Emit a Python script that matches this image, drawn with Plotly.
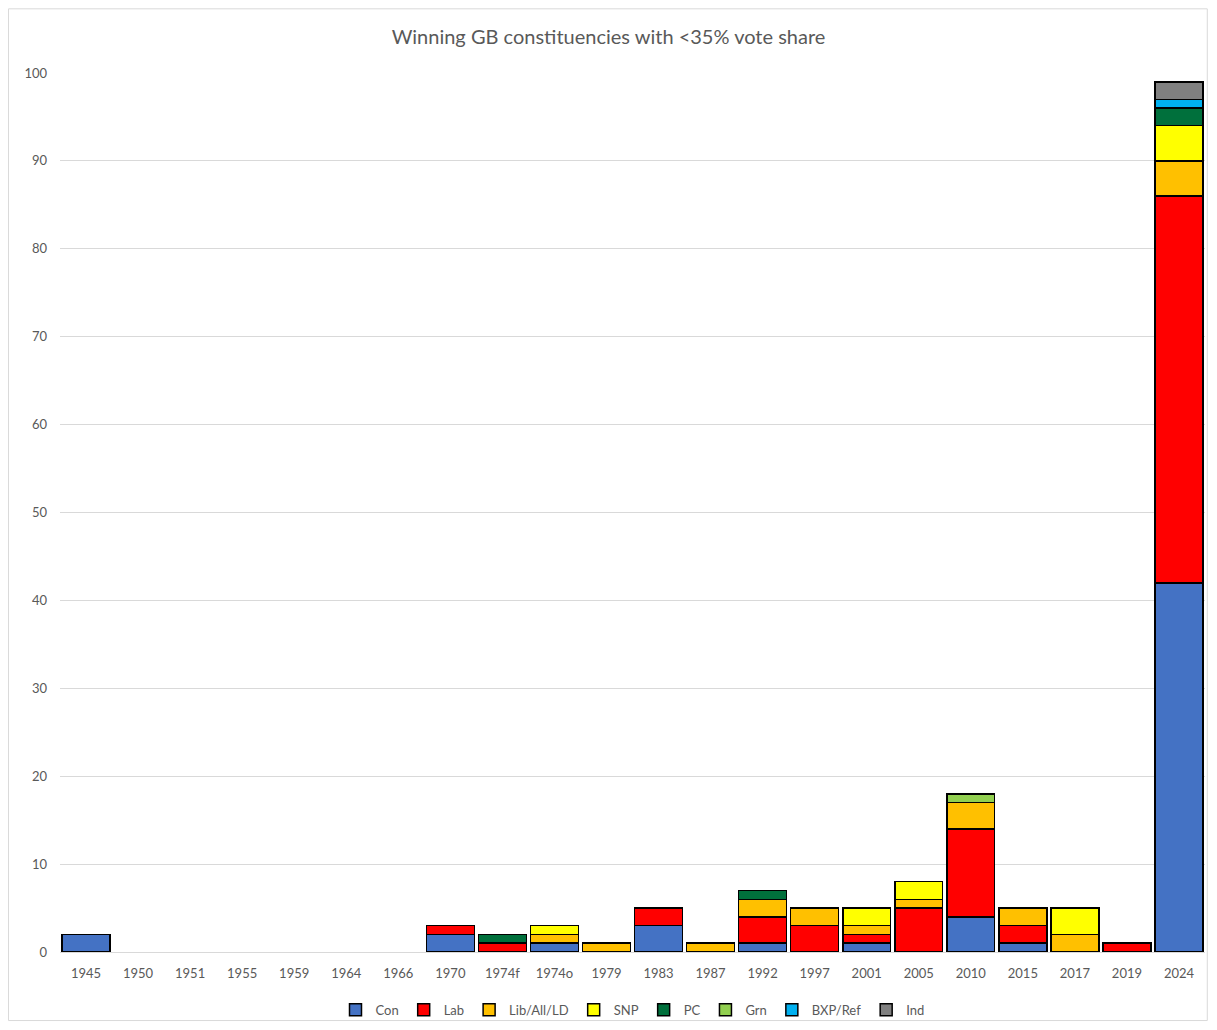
import plotly.graph_objects as go

years = ["1945", "1950", "1951", "1955", "1959", "1964", "1966", "1970", "1974f", "1974o",
         "1979", "1983", "1987", "1992", "1997", "2001", "2005", "2010", "2015", "2017", "2019", "2024"]

con = [2, 0, 0, 0, 0, 0, 0, 2, 0, 1, 0, 3, 0, 1, 0, 1, 0, 4, 1, 0, 0, 42]
lab = [0, 0, 0, 0, 0, 0, 0, 1, 1, 0, 0, 2, 0, 3, 3, 1, 5, 10, 2, 0, 1, 44]
lib = [0, 0, 0, 0, 0, 0, 0, 0, 0, 1, 1, 0, 1, 2, 2, 1, 1, 3, 2, 2, 0, 4]
snp = [0, 0, 0, 0, 0, 0, 0, 0, 0, 1, 0, 0, 0, 0, 0, 2, 2, 0, 0, 3, 0, 4]
pc = [0, 0, 0, 0, 0, 0, 0, 0, 1, 0, 0, 0, 0, 1, 0, 0, 0, 0, 0, 0, 0, 2]
grn = [0, 0, 0, 0, 0, 0, 0, 0, 0, 0, 0, 0, 0, 0, 0, 0, 0, 1, 0, 0, 0, 0]
bxp = [0, 0, 0, 0, 0, 0, 0, 0, 0, 0, 0, 0, 0, 0, 0, 0, 0, 0, 0, 0, 0, 1]
ind = [0, 0, 0, 0, 0, 0, 0, 0, 0, 0, 0, 0, 0, 0, 0, 0, 0, 0, 0, 0, 0, 2]

series = [
    ("Con", con, "#4472C4"),
    ("Lab", lab, "#FF0000"),
    ("Lib/All/LD", lib, "#FFC000"),
    ("SNP", snp, "#FFFF00"),
    ("PC", pc, "#00703C"),
    ("Grn", grn, "#92D050"),
    ("BXP/Ref", bxp, "#00B0F0"),
    ("Ind", ind, "#808080"),
]

fig = go.Figure()
for name, vals, color in series:
    fig.add_trace(go.Bar(
        name=name, x=years, y=[v if v else None for v in vals],
        marker=dict(color=color, line=dict(color="#000000", width=1.5)),
    ))

fig.update_layout(
    barmode="stack",
    bargap=0.08,
    width=1201, height=1014,
    paper_bgcolor="white", plot_bgcolor="white",
    font=dict(family="Lato, Open Sans, sans-serif", color="#595959", size=13),
    title=dict(text="Winning GB constituencies with <35% vote share",
               x=0.5, xanchor="center", y=0.971, yanchor="middle",
               font=dict(size=20, color="#595959")),
    margin=dict(l=52, r=4, t=65, b=70, autoexpand=False),
    xaxis=dict(type="category", showgrid=False, showline=True, linecolor="#D9D9D9",
               linewidth=1, ticks="", tickfont=dict(size=13, color="#595959"),
               ticklabelstandoff=9),
    yaxis=dict(range=[0, 100], dtick=10, showgrid=True, gridcolor="#D9D9D9",
               gridwidth=1, zeroline=False, showline=False, ticks="",
               tickfont=dict(size=13, color="#595959"), ticklabelstandoff=12),
    legend=dict(orientation="h", x=0.5, xanchor="center", yref="container",
                y=0.012, yanchor="middle", bgcolor="rgba(0,0,0,0)",
                font=dict(size=13, color="#595959"), traceorder="normal",
                itemwidth=30, tracegroupgap=0),
    showlegend=True,
    shapes=[dict(type="rect", xref="paper", yref="paper",
                 x0=-0.045, x1=1.002, y0=-0.078, y1=1.073,
                 line=dict(color="#D9D9D9", width=1), fillcolor="rgba(0,0,0,0)", layer="below")],
)

fig.write_html("out.html")
